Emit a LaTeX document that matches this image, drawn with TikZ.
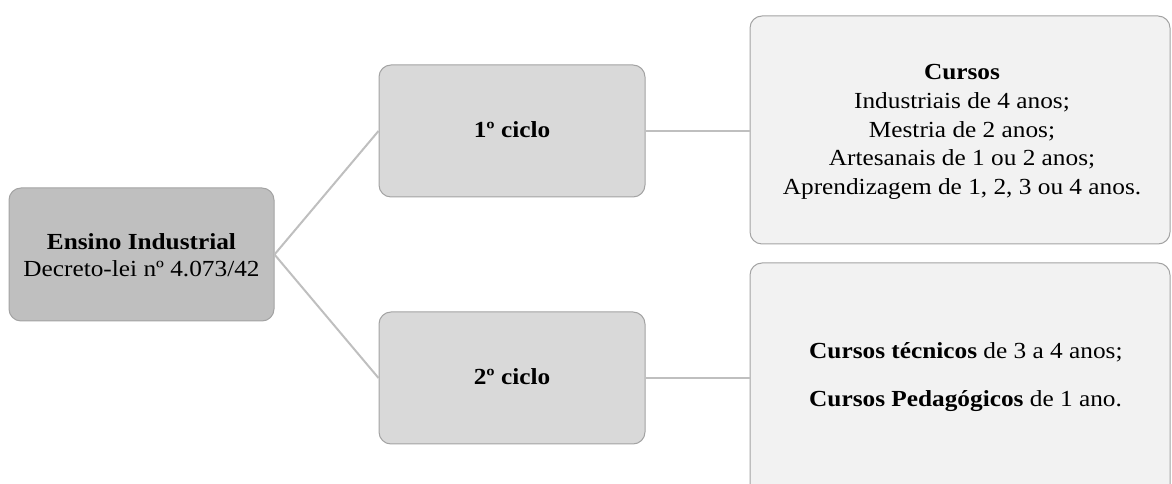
\documentclass[tikz,border=0pt]{standalone}
\usepackage{fontspec}
\setmainfont[FakeStretch=1.1]{Liberation Serif}
\begin{document}
\begin{tikzpicture}[x=1pt,y=1pt,
  box/.style={draw=#1, line width=1pt, rounded corners=12pt, inner sep=0pt},
  link/.style={draw=linkgray, line width=2pt},
  txt/.style={font=\fontsize{23}{28.7}\selectfont, align=center, inner sep=0pt}]
\definecolor{rootfill}{HTML}{BFBFBF}
\definecolor{midfill}{HTML}{D9D9D9}
\definecolor{leaffill}{HTML}{F2F2F2}
\definecolor{edgegray}{HTML}{A3A3A3}
\definecolor{linkgray}{HTML}{BFBFBF}
\useasboundingbox (0,0) rectangle (1172,484);
\clip (0,0) rectangle (1172,484);

% boxes
\node[box=edgegray, fill=rootfill, minimum width=265pt, minimum height=133pt] (root) at (141.5,229.5) {};
\node[box=edgegray, fill=midfill, minimum width=266pt, minimum height=132pt] (c1) at (512,353) {};
\node[box=edgegray, fill=midfill, minimum width=266pt, minimum height=132pt] (c2) at (512,106) {};
\node[box=edgegray, fill=leaffill, minimum width=420pt, minimum height=228pt] (l1) at (960,354) {};
\node[box=edgegray, fill=leaffill, minimum width=420pt, minimum height=240pt] (l2) at (960,101) {};

% connectors
\draw[link] (root.east) -- (c1.west);
\draw[link] (root.east) -- (c2.west);
\draw[link] (c1.east) -- (l1.west |- c1.east);
\draw[link] (c2.east) -- (l2.west |- c2.east);

% texts
\node[txt, font=\fontsize{23}{27}\selectfont] (roott) at (141.5,229) {\textbf{Ensino Industrial}\\Decreto-lei nº 4.073/42};
\node[txt] (c1t) at (512,354) {\textbf{1º ciclo}};
\node[txt] (c2t) at (512,107) {\textbf{2º ciclo}};
\node[txt] (l1t) at (962,352) {\textbf{Cursos}\\Industriais de 4 anos;\\Mestria de 2 anos;\\Artesanais de 1 ou 2 anos;\\Aprendizagem de 1, 2, 3 ou 4 anos.};
\node[txt, align=left, anchor=west, font=\fontsize{23}{48}\selectfont] (l2t) at (809,107) {\textbf{Cursos técnicos} de 3 a 4 anos;\\\textbf{Cursos Pedagógicos} de 1 ano.};
\end{tikzpicture}
\end{document}
